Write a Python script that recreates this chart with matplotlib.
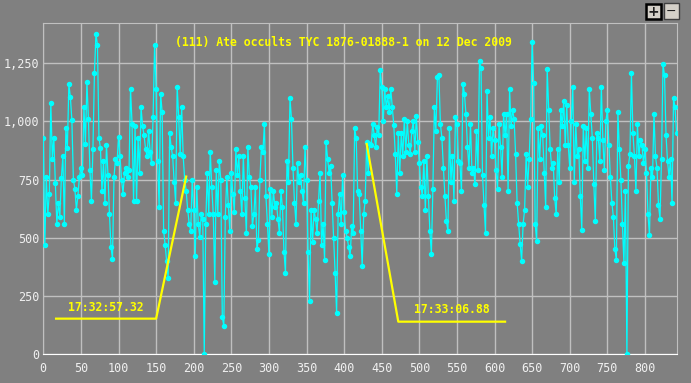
import numpy as np
import matplotlib
matplotlib.use("Agg")
import matplotlib.pyplot as plt
from matplotlib.patches import Rectangle
from matplotlib.ticker import FuncFormatter

title = "(111) Ate occults TYC 1876-01888-1 on 12 Dec 2009"

# light curve, one reading every 2 frames
flux = [
    930, 470, 760, 600, 690, 1080, 840, 930, 735, 560,
    650, 590, 755, 850, 560, 970, 885, 1160, 1105, 1005,
    750, 710, 620, 680, 760, 800, 770, 1060, 905, 1170,
    1010, 790, 660, 880, 1210, 1375, 1330, 930, 885, 700,
    830, 650, 900, 770, 600, 460, 410, 760, 840, 820,
    935, 850, 750, 690, 780, 800, 760, 790, 1140, 990,
    660, 980, 660, 930, 780, 1060, 980, 940, 880, 850,
    960, 870, 820, 1020, 1330, 1140, 830, 630, 1120, 1040,
    530, 470, 400, 325, 950, 890, 850, 740, 650, 1150,
    1020, 860, 1060, 850, 750, 700, 620, 560, 530, 750,
    620, 420, 720, 560, 505, 600, 580, 0, 560, 780,
    600, 870, 720, 600, 310, 790, 600, 830, 750, 160,
    120, 590, 760, 640, 530, 780, 690, 610, 880, 770,
    850, 700, 600, 850, 670, 520, 890, 760, 720, 550,
    600, 720, 450, 490, 750, 890, 870, 990, 680, 560,
    430, 710, 590, 700, 630, 650, 580, 520, 700, 630,
    440, 350, 830, 740, 1100, 1010, 800, 650, 560, 820,
    740, 770, 700, 650, 890, 750, 440, 230, 620, 480,
    620, 580, 520, 660, 780, 470, 560, 405, 910, 840,
    780, 810, 650, 500, 350, 175, 600, 690, 560, 770,
    610, 530, 500, 460, 420, 550, 520, 970, 930, 700,
    690, 530, 380, 600, 660, 910, 780, 905, 900, 990,
    940, 890, 975, 940, 1220, 1150, 1000, 1140, 1060, 1110,
    1040, 1140, 1060, 985, 860, 690, 950, 780, 950, 850,
    1010, 870, 1000, 900, 860, 960, 1000, 870, 1025, 910,
    820, 720, 680, 830, 620, 850, 680, 530, 430, 710,
    1060, 960, 1190, 1200, 990, 930, 800, 680, 570, 530,
    970, 740, 850, 660, 1020, 990, 830, 820, 700, 1160,
    1120, 1030, 890, 800, 990, 780, 800, 730, 960, 790,
    1260, 1230, 770, 640, 520, 1130, 930, 1020, 850, 970,
    920, 790, 710, 990, 890, 760, 1030, 940, 1030, 700,
    1140, 980, 1050, 1010, 860, 650, 560, 475, 400, 560,
    620, 860, 720, 840, 1010, 1340, 1165, 560, 485, 970,
    840, 980, 940, 780, 630, 1225, 1050, 880, 800, 820,
    670, 600, 880, 740, 1050, 980, 1090, 900, 1070, 900,
    800, 1000, 1150, 740, 990, 850, 880, 680, 535, 980,
    830, 970, 800, 1140, 1030, 930, 730, 570, 950, 930,
    830, 1150, 920, 790, 1000, 1050, 900, 760, 650, 590,
    450, 405, 1040, 880, 750, 560, 390, 700, 0, 810,
    860, 1210, 950, 850, 700, 990, 850, 920, 900, 820,
    880, 780, 600, 510, 800, 760, 1030, 850, 800, 640,
    580, 840, 1245, 1200, 940, 830, 760, 840, 650, 1100,
    1060, 950,
]
frames = np.arange(len(flux)) * 2

# fitted D / R edges
d_x = [17, 150, 190]
d_y = [152, 152, 763]
r_x = [430, 472, 614]
r_y = [903, 139, 139]
d_label = "17:32:57.32"
r_label = "17:33:06.88"

bg = "#808080"
grid_c = "#c0c0c0"
mono = "DejaVu Sans Mono"

fig = plt.figure(figsize=(6.91, 3.83), dpi=100, facecolor=bg)
ax = fig.add_axes([43.3 / 691, 1 - 354 / 383, (677.3 - 43.3) / 691, (354 - 23.3) / 383])
ax.set_facecolor(bg)

ax.plot(frames, flux, color="#00ffff", lw=0.9, marker="o", ms=2.9, mec="#00ffff", zorder=3)
ax.plot(d_x, d_y, color="#ffff00", lw=1.6, zorder=4)
ax.plot(r_x, r_y, color="#ffff00", lw=1.6, zorder=4)
ax.text(83, 198, d_label, color="#ffff00", family=mono, weight="bold", fontsize=8.3,
        ha="center", va="center", zorder=5)
ax.text(543, 190, r_label, color="#ffff00", family=mono, weight="bold", fontsize=8.3,
        ha="center", va="center", zorder=5)
ax.text(0.474, 0.943, title, transform=ax.transAxes, color="#ffff00", family=mono,
        weight="bold", fontsize=8.3, ha="center", va="center", zorder=5)

ax.set_xlim(0, 843)
ax.set_ylim(0, 1422)
ax.set_xticks(np.arange(0, 801, 50))
ax.set_yticks(np.arange(0, 1251, 250))
ax.yaxis.set_major_formatter(FuncFormatter(lambda v, p: f"{int(v):,}"))
ax.grid(True, color=grid_c, lw=1.0, zorder=0)
ax.set_axisbelow(True)
ax.tick_params(length=0, colors="#f0f0f0", labelsize=8.5)
ax.tick_params(axis="x", pad=6)
ax.tick_params(axis="y", pad=3)
for lab in ax.get_xticklabels() + ax.get_yticklabels():
    lab.set_family(mono)
for s in ["left", "top", "right"]:
    ax.spines[s].set_color(grid_c)
ax.spines["bottom"].set_color("white")

# zoom buttons, top right
fig.add_artist(Rectangle((645.5 / 691, 1 - 19 / 383), 15 / 691, 15 / 383, transform=fig.transFigure,
                         fc="#d4d0c8", ec="black", lw=1.8))
fig.add_artist(Rectangle((663.5 / 691, 1 - 19 / 383), 15 / 691, 15.5 / 383, transform=fig.transFigure,
                         fc="#d4d0c8", ec="#404040", lw=1.0))
fig.text(653 / 691, 1 - 11.5 / 383, "+", color="#202020", fontsize=10, weight="bold",
         ha="center", va="center")
fig.text(671 / 691, 1 - 11.5 / 383, "\u2212", color="#202020", fontsize=9,
         ha="center", va="center")

fig.savefig("out.png", dpi=100, facecolor=bg)
